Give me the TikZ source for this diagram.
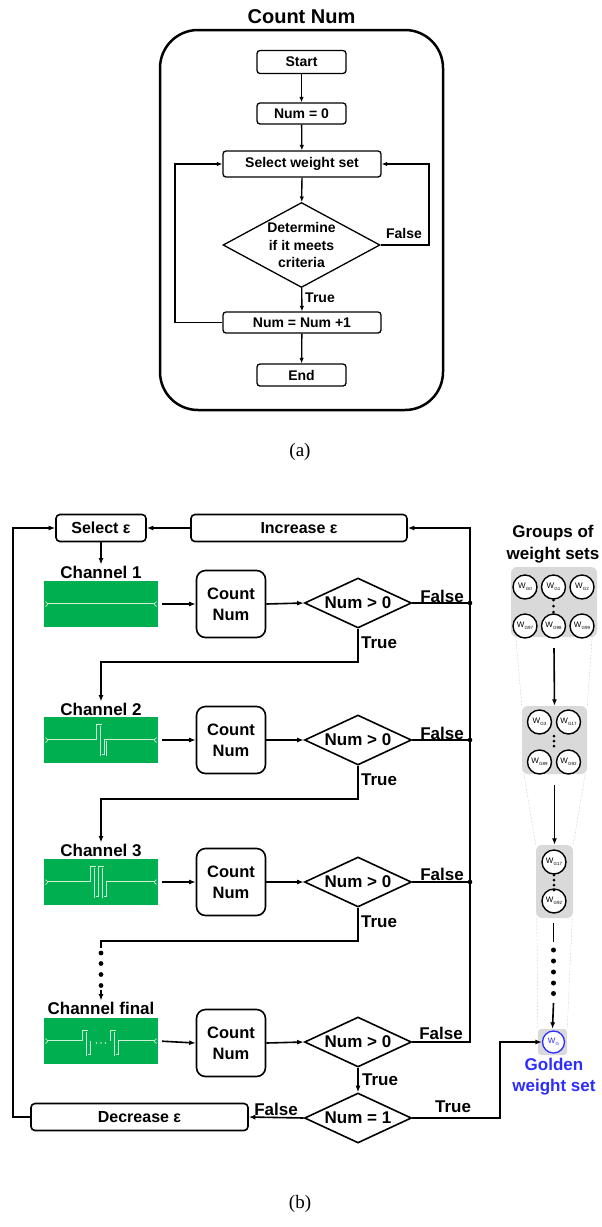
\documentclass[tikz,border=0pt]{standalone}
\usepackage{fontspec}
\setmainfont{Liberation Sans}
\newfontfamily\capfont{Liberation Serif}
\usetikzlibrary{shapes.geometric,arrows.meta}
\definecolor{chgreen}{RGB}{0,176,80}
\definecolor{chline}{RGB}{205,242,215}
\definecolor{setgray}{RGB}{217,217,217}
\definecolor{goldblue}{RGB}{45,45,255}
\newcommand\wsub[1]{{\fontsize{8}{8}\selectfont W}\raisebox{-1.5pt}{\fontsize{4.5}{5}\selectfont #1}}
\begin{document}
\begin{tikzpicture}[x=1pt,y=-1pt,
  every node/.style={font=\bfseries},
  % flowchart (a)
  fl/.style={line width=1.3pt},
  fa/.style={line width=1.3pt,-{Latex[length=5.5pt,width=4.5pt]}},
  abox/.style={draw,line width=1.3pt,rounded corners=3pt,inner sep=0pt,
    font=\fontsize{14}{17}\selectfont\bfseries},
  % flowchart (b)
  bl/.style={line width=1.6pt},
  ba/.style={line width=1.6pt,-{Latex[length=6.5pt,width=5pt]}},
  ebox/.style={draw,line width=1.6pt,rounded corners=4pt,minimum height=27pt,inner sep=0pt,
    font=\fontsize{16}{19}\selectfont\bfseries},
  cbox/.style={draw,line width=1.6pt,rounded corners=9pt,minimum width=69pt,minimum height=67pt,
    inner sep=0pt,align=center,font=\fontsize{16.5}{21}\selectfont\bfseries},
  dec/.style={draw,diamond,aspect=2.14,minimum width=107pt,minimum height=50pt,inner sep=0pt,
    line width=1.6pt,font=\fontsize{17}{20}\selectfont\bfseries},
  chbox/.style={fill=chgreen,minimum width=114pt,minimum height=46pt,inner sep=0pt},
  % waveguide drawn as a light outline with a green core
  chpath/.style={draw=chgreen,line width=0.9pt,line join=miter,
    preaction={draw=chline,line width=2.5pt,line join=miter}},
  chflare/.style={draw=chline,line width=0.7pt},
  lab/.style={font=\fontsize{17}{20}\selectfont\bfseries,inner sep=1pt},
  % weight sets
  setbox/.style={fill=setgray,rounded corners=6pt,inner sep=0pt},
  wc/.style={circle,draw,line width=1.4pt,fill=white,minimum size=24pt,inner sep=0pt,font=\mdseries},
  funnel/.style={draw=black!35,line width=0.4pt,densely dotted},
  dot/.style={circle,fill,inner sep=0pt,minimum size=#1}
]
\useasboundingbox (0,0) rectangle (602,1227);

%% ---------------- (a) Count Num ----------------
\node[font=\fontsize{20}{24}\selectfont\bfseries] (title) at (301.5,17) {Count Num};
\node[draw,line width=2.5pt,rounded corners=38pt,minimum width=283pt,minimum height=380pt,inner sep=0pt]
  (frame) at (301.5,220) {};

\node[abox,minimum width=89pt,minimum height=23pt] (start) at (301.5,62) {Start};
\node[abox,minimum width=89pt,minimum height=21pt] (num0) at (301.5,113.5) {Num = 0};
\node[abox,minimum width=158pt,minimum height=26pt] (sel) at (302,164) {Select weight set};
\node[draw,diamond,aspect=1.85,minimum width=157pt,minimum height=85pt,inner sep=0pt,line width=1.3pt,
  align=center,font=\fontsize{14}{17.5}\selectfont\bfseries] (crit) at (301.5,245)
  {Determine\\if it meets\\criteria};
\node[abox,minimum width=158pt,minimum height=21pt] (inc) at (302,322.5) {Num = Num +1};
\node[abox,minimum width=89pt,minimum height=22pt] (end) at (301.5,375) {End};

\coordinate (al) at (175,0);
\coordinate (ar) at (429,0);
\draw[fa] (start) -- (num0);
\draw[fa] (num0) -- (sel);
\draw[fa] (sel) -- (crit);
\draw[fa] (crit) -- (inc);
\draw[fa] (inc) -- (end);
\draw[fa] (crit.east) -- (crit.east -| ar) |- (sel.east);
\draw[fa] (inc.west) -- (inc.west -| al) |- (sel.west);
\node[font=\fontsize{14}{17}\selectfont\bfseries] (afalse) at (404,233) {False};
\node[font=\fontsize{14}{17}\selectfont\bfseries] (atrue) at (320,298) {True};

\node[font=\capfont\mdseries\fontsize{19}{22}\selectfont] (capa) at (300,452) {(a)};

%% ---------------- (b) channel search ----------------
\node[ebox,minimum width=90pt] (selE) at (101,528) {Select ε};
\node[ebox,minimum width=216pt] (incE) at (299,528) {Increase ε};
\node[ebox,minimum width=217pt] (decE) at (139.5,1117) {Decrease ε};

% channel labels and layouts
\node[lab] (l1) at (101,572) {Channel 1};
\node[lab] (l2) at (101,709) {Channel 2};
\node[lab] (l3) at (101,850) {Channel 3};
\node[lab] (l4) at (101,1008) {Channel final};
\node[chbox] (g1) at (101,604) {};
\node[chbox] (g2) at (101,740) {};
\node[chbox] (g3) at (101,882) {};
\node[chbox] (g4) at (101,1041) {};

\foreach \g in {g1,g2,g3,g4}{
  \begin{scope}[shift={(\g.center)}]
    \draw[chflare] (-53,0) -- (-55.5,-2.5) (-53,0) -- (-55.5,2.5)
                   (53,0) -- (55.5,-2.5) (53,0) -- (55.5,2.5);
  \end{scope}
}
\begin{scope}[shift={(g1.center)}]
  \draw[chpath] (-53,0) -- (53,0);
\end{scope}
\begin{scope}[shift={(g2.center)}]
  \draw[chpath] (-53,0) -- (-4,0) -- (-4,-15) -- (0,-15) -- (0,15) -- (4.5,15) -- (4.5,0) -- (53,0);
\end{scope}
\begin{scope}[shift={(g3.center)}]
  \draw[chpath] (-53,0) -- (-10,0) -- (-10,-15) -- (-6,-15) -- (-6,15) -- (-2,15) -- (-2,-15)
    -- (2,-15) -- (2,15) -- (6,15) -- (6,0) -- (53,0);
\end{scope}
\begin{scope}[shift={(g4.center)}]
  \draw[chpath] (-53,0) -- (-18,0) -- (-18,-10) -- (-14,-10) -- (-14,14) -- (-10,14) -- (-10,0);
  \draw[chpath] (10,0) -- (10,-10) -- (14,-10) -- (14,14) -- (18,14) -- (18,0) -- (53,0);
  \fill[chline] (-4.5,2) circle (0.9) (0,2) circle (0.9) (4.5,2) circle (0.9);
\end{scope}

% count and decision nodes
\node[cbox] (c1) at (231,604) {Count\\Num};
\node[cbox] (c2) at (231,740) {Count\\Num};
\node[cbox] (c3) at (231,882) {Count\\Num};
\node[cbox] (c4) at (231,1043) {Count\\Num};
\node[dec] (d1) at (358,603) {Num > 0};
\node[dec] (d2) at (358,740) {Num > 0};
\node[dec] (d3) at (358,882) {Num > 0};
\node[dec] (d4) at (358,1042) {Num > 0};
\node[dec] (d5) at (358,1118) {Num = 1};

\foreach \i in {1,2,3,4}{
  \draw[ba,shorten <=4pt] (g\i.east) -- (c\i.west);
  \draw[ba] (c\i.east) -- (d\i.west);
}

% epsilon loop
\draw[ba] (incE.west) -- (selE.east);
\draw[ba] (selE.south) -- (l1.north);
\coordinate (rt) at (470,528);
\coordinate (lt) at (13,528);
\draw[ba] (d4.east) -- (d4.east -| rt) -- (rt) -- (incE.east);
\foreach \i in {1,2,3}{
  \draw[bl] (d\i.east) -- (d\i.east -| rt);
  \node[dot=4.6pt] (j\i) at (d\i.east -| rt) {};
}
\draw[ba] (decE.west) -- (decE.west -| lt) -- (lt) -- (selE.west);

% true branches to the next channel
\coordinate (t1) at (358,662);
\coordinate (t2) at (358,799);
\coordinate (t3) at (358,941);
\draw[ba] (d1.south) -- (t1) -| (l2.north);
\draw[ba] (d2.south) -- (t2) -| (l3.north);
\coordinate (v0) at (101,948);
\coordinate (v1) at (101,990);
\draw[bl] (d3.south) -- (t3) -| (v0);
\foreach \y in {953,963.5,974.5,985.5}{\node[dot=4.8pt] at (101,\y) {};}
\draw[ba] (v1) -- (l4.north);

\draw[ba] (d4.south) -- (d5.north);
\draw[ba] (d5.west) -- (decE.east);

% branch labels
\node[lab] (f1) at (442,596) {False};
\node[lab] (f2) at (442,733) {False};
\node[lab] (f3) at (442,874) {False};
\node[lab] (f4) at (441,1033) {False};
\node[lab] (f5) at (276,1109) {False};
\node[lab] (tr1) at (379,643) {True};
\node[lab] (tr2) at (379,780) {True};
\node[lab] (tr3) at (379,922) {True};
\node[lab] (tr4) at (380,1080) {True};
\node[lab] (tr5) at (453,1107) {True};

%% ---------------- weight sets ----------------
\node[align=center,font=\fontsize{17}{22}\selectfont\bfseries] (grp) at (553,544) {Groups of\\weight sets};

\node[setbox,minimum width=86pt,minimum height=70pt] (s1) at (554,602) {};
\node[setbox,minimum width=65pt,minimum height=68pt] (s2) at (554.5,740) {};
\node[setbox,minimum width=37pt,minimum height=73pt] (s3) at (554.5,881.5) {};
\node[setbox,rounded corners=3pt,minimum width=29pt,minimum height=26pt] (s4) at (552.5,1042) {};

\draw[funnel] ([xshift=5pt]s1.south west) -- (s2.north west);
\draw[funnel] ([xshift=-5pt]s1.south east) -- (s2.north east);
\draw[funnel] ([xshift=2pt]s2.south west) -- (s3.north west);
\draw[funnel] ([xshift=-2pt]s2.south east) -- (s3.north east);
\draw[funnel] ([xshift=1pt]s3.south west) -- (s4.north west);
\draw[funnel] ([xshift=-1pt]s3.south east) -- (s4.north east);

\node[wc] (w0) at (525,587) {\wsub{G0}};
\node[wc] (w1) at (553.5,587) {\wsub{G1}};
\node[wc] (w2) at (582,587) {\wsub{G2}};
\node[wc] (w97) at (525,626) {\wsub{G97}};
\node[wc] (w98) at (553.5,626) {\wsub{G98}};
\node[wc] (w99) at (582,626) {\wsub{G99}};
\foreach \y in {600,606,612}{\node[dot=3pt] at (553.5,\y) {};}

\node[wc] (u3) at (539.5,722) {\wsub{G3}};
\node[wc] (u17) at (568.5,722) {\wsub{G17}};
\node[wc] (u89) at (539.5,762) {\wsub{G89}};
\node[wc] (u92) at (568.5,762) {\wsub{G92}};
\foreach \y in {736,741,746}{\node[dot=3pt] at (554,\y) {};}

\node[wc] (v17) at (554,862) {\wsub{G17}};
\node[wc] (v92) at (554,901) {\wsub{G92}};
\foreach \y in {875,880,885,890}{\node[dot=3pt] at (554,\y) {};}

\node[circle,draw=goldblue,line width=1.3pt,fill=white,minimum size=22pt,inner sep=0pt,
  text=goldblue,font=\mdseries] (wg) at (553.5,1042) {\wsub{G}};
\node[align=center,text=goldblue,font=\fontsize{17}{21}\selectfont\bfseries] (gold) at (554,1077)
  {Golden\\weight set};

\draw[ba] (s1.south |- 0,648) -- (s2.north);
\draw[ba] (s2.south |- 0,785) -- (s3.north);
\coordinate (k0) at (553.5,923);
\coordinate (k1) at (553.5,942);
\coordinate (k2) at (553.5,1003);
\draw[bl] (k0) -- (k1);
\foreach \y in {950,961,972,983,993.5}{\node[dot=5pt] at (553.5,\y) {};}
\draw[ba] (k2) -- (s4.north);

\coordinate (gt) at (500,0);
\draw[ba] (d5.east) -- (d5.east -| gt) |- (wg.west);

\node[font=\capfont\mdseries\fontsize{19}{22}\selectfont] (capb) at (300,1204) {(b)};
\end{tikzpicture}
\end{document}
